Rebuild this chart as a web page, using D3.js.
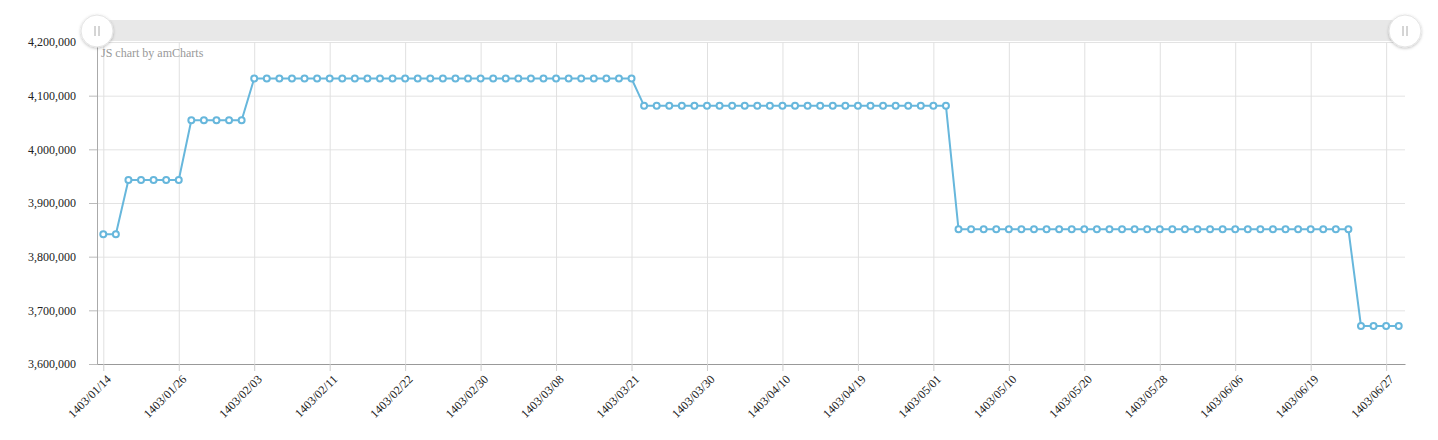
<!DOCTYPE html>
<html>
<head>
<meta charset="utf-8">
<script src="https://cdn.jsdelivr.net/npm/d3@7"></script>
<style>
  body { margin: 0; background: #fff; }
  text { font-family: "Liberation Serif", "Times New Roman", serif; }
</style>
</head>
<body>
<div id="chart"></div>
<script>
const svgWidth = 1438
const svgHeight = 440
let margin = { top: 42, right: 33, bottom: 76, left: 97 }
let width = svgWidth - margin.left - margin.right
let height = svgHeight - margin.top - margin.bottom

// labels shown on the category axis (every 6th point)
const tickLabels = [
  "1403/01/14", "1403/01/26", "1403/02/03", "1403/02/11", "1403/02/22",
  "1403/02/30", "1403/03/08", "1403/03/21", "1403/03/30", "1403/04/10",
  "1403/04/19", "1403/05/01", "1403/05/10", "1403/05/20", "1403/05/28",
  "1403/06/06", "1403/06/19", "1403/06/27"
]
const yTicks = [3600000, 3700000, 3800000, 3900000, 4000000, 4100000, 4200000]

// one value per day shown on the chart (104 points)
const values = [
  3842000, 3842000,
  3943000, 3943000, 3943000, 3943000, 3943000,
  4054000, 4054000, 4054000, 4054000, 4054000,
  4132000, 4132000, 4132000, 4132000, 4132000, 4132000, 4132000, 4132000,
  4132000, 4132000, 4132000, 4132000, 4132000, 4132000, 4132000, 4132000,
  4132000, 4132000, 4132000, 4132000, 4132000, 4132000, 4132000, 4132000,
  4132000, 4132000, 4132000, 4132000, 4132000, 4132000, 4132000,
  4081000, 4081000, 4081000, 4081000, 4081000, 4081000, 4081000, 4081000,
  4081000, 4081000, 4081000, 4081000, 4081000, 4081000, 4081000, 4081000,
  4081000, 4081000, 4081000, 4081000, 4081000, 4081000, 4081000, 4081000,
  4081000,
  3851000, 3851000, 3851000, 3851000, 3851000, 3851000, 3851000, 3851000,
  3851000, 3851000, 3851000, 3851000, 3851000, 3851000, 3851000, 3851000,
  3851000, 3851000, 3851000, 3851000, 3851000, 3851000, 3851000, 3851000,
  3851000, 3851000, 3851000, 3851000, 3851000, 3851000, 3851000, 3851000,
  3671000, 3671000, 3671000, 3671000
]
const labelEvery = 6

let svg = d3.select("#chart")
  .append("svg")
  .attr("width", svgWidth)
  .attr("height", svgHeight)

let defs = svg.append("defs")
let shadow = defs.append("filter").attr("id", "grip-shadow")
  .attr("x", "-50%").attr("y", "-50%").attr("width", "200%").attr("height", "200%")
shadow.append("feDropShadow")
  .attr("dx", 0).attr("dy", 1).attr("stdDeviation", 1.5)
  .attr("flood-color", "#000").attr("flood-opacity", 0.25)

let chartGroup = svg.append("g")
  .attr("transform", `translate(${margin.left}, ${margin.top})`)

let idx = values.map((d, i) => i)
let xScale = d3.scalePoint().domain(idx).range([0, width]).padding(0.5)
let yScale = d3.scaleLinear().domain([3600000, 4200000]).range([height, 0])

// horizontal grid
chartGroup.append("g")
  .attr("class", "y-grid")
  .call(d3.axisLeft(yScale).tickValues(yTicks).tickSize(-width).tickFormat(""))
  .call(g => g.select(".domain").remove())
  .call(g => g.selectAll("line").attr("stroke", "#e3e3e3"))

// vertical grid at labelled categories
let labelIdx = idx.filter(i => i % labelEvery === 0)
chartGroup.append("g")
  .attr("class", "x-grid")
  .attr("transform", `translate(0, ${height})`)
  .call(d3.axisBottom(xScale).tickValues(labelIdx).tickSize(-height).tickFormat(""))
  .call(g => g.select(".domain").remove())
  .call(g => g.selectAll("line").attr("stroke", "#e0e0e0"))

// y axis
let yAxis = chartGroup.append("g")
  .attr("class", "y-axis")
  .call(d3.axisLeft(yScale).tickValues(yTicks).tickSize(8).tickPadding(13)
    .tickFormat(d3.format(",")).tickSizeOuter(0))
yAxis.select(".domain").attr("stroke", "#aaa")
yAxis.selectAll("line").attr("stroke", "#bbb")
yAxis.selectAll("text").attr("font-size", 12).attr("fill", "#222")
  .style("font-family", "'Liberation Serif', serif")

// x axis
let xAxis = chartGroup.append("g")
  .attr("class", "x-axis")
  .attr("transform", `translate(0, ${height})`)
  .call(d3.axisBottom(xScale).tickValues(labelIdx).tickSize(7).tickSizeOuter(0)
    .tickFormat(i => tickLabels[i / labelEvery]))
xAxis.select(".domain").attr("stroke", "#999")
xAxis.selectAll("line").attr("stroke", "#ccc")
xAxis.selectAll("text")
  .attr("font-size", 12).attr("fill", "#222")
  .style("font-family", "'Liberation Serif', serif")
  .attr("text-anchor", "end")
  .attr("dy", "0.35em")
  .attr("transform", "translate(5, 13) rotate(-45)")
  .attr("y", 0)

// watermark
chartGroup.append("text")
  .attr("x", 4)
  .attr("y", 15)
  .attr("font-size", 12)
  .attr("fill", "#999")
  .text("JS chart by amCharts")

// line
let line = d3.line()
  .x((d, i) => xScale(i))
  .y(d => yScale(d))
chartGroup.append("path")
  .datum(values)
  .attr("fill", "none")
  .attr("stroke", "#67b7dc")
  .attr("stroke-width", 2)
  .attr("d", line)

chartGroup.selectAll("circle.bullet")
  .data(values)
  .enter()
  .append("circle")
  .attr("class", "bullet")
  .attr("cx", (d, i) => xScale(i))
  .attr("cy", d => yScale(d))
  .attr("r", 3)
  .attr("fill", "#fff")
  .attr("stroke", "#67b7dc")
  .attr("stroke-width", 2)

// scrollbar
let scroll = svg.append("g")
  .attr("transform", `translate(${margin.left}, 20)`)
scroll.append("rect")
  .attr("width", width)
  .attr("height", 21)
  .attr("fill", "#e8e8e8")
let grips = scroll.selectAll("g.grip")
  .data([0, width])
  .enter()
  .append("g")
  .attr("class", "grip")
  .attr("transform", d => `translate(${d}, 11)`)
grips.append("circle")
  .attr("r", 16)
  .attr("fill", "#fff")
  .attr("stroke", "#e4e4e4")
  .attr("filter", "url(#grip-shadow)")
grips.selectAll("line")
  .data([-2, 2])
  .enter()
  .append("line")
  .attr("x1", d => d).attr("x2", d => d)
  .attr("y1", -5).attr("y2", 5)
  .attr("stroke", "#aaa")
  .attr("stroke-width", 1)
</script>
</body>
</html>
